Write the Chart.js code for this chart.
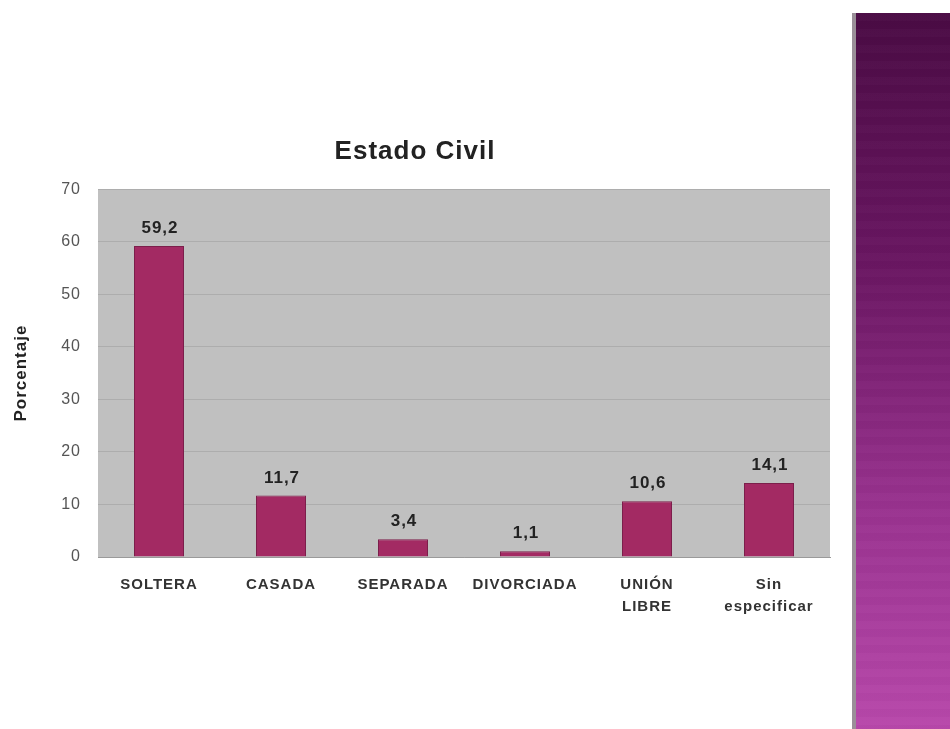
<!DOCTYPE html>
<html>
<head>
<meta charset="utf-8">
<script src="https://cdn.jsdelivr.net/npm/chart.js@4.4.1/dist/chart.umd.min.js"></script>
<style>
  body { margin: 0; background: #fff; width: 950px; height: 729px; overflow: hidden; position: relative; }
  #wrap { position: absolute; left: 0; top: 0; width: 850px; height: 729px; }
  .panel {
    position: absolute; left: 852px; top: 13px; width: 98px; height: 716px;
    border-left: 4px solid #9a8f98;
    box-sizing: border-box;
    background:
      repeating-linear-gradient(180deg, rgba(255,255,255,0.015) 0 8px, rgba(0,0,0,0.015) 8px 16px),
      linear-gradient(180deg, #4a0b44 0%, #6a1662 35%, #9a3390 70%, #b848ab 100%);
  }
</style>
</head>
<body>
<div id="wrap"><canvas id="c" width="850" height="729"></canvas></div>
<div class="panel"></div>
<script>
const categories = ['SOLTERA', 'CASADA', 'SEPARADA', 'DIVORCIADA', ['UNIÓN', 'LIBRE'], ['Sin', 'especificar']];
const porcentajes = [59.2, 11.7, 3.4, 1.1, 10.6, 14.1];
const yTicks = [0, 10, 20, 30, 40, 50, 60, 70];

const FONT = '"Liberation Sans", Arial, sans-serif';

// the source slide is stretched sideways, so all text runs a little wide
const wideText = {
  id: 'wideText',
  beforeDraw(chart) { chart.ctx.letterSpacing = '1px'; }
};

const plotBg = {
  id: 'plotBg',
  beforeDraw(chart) {
    const { ctx, chartArea: a } = chart;
    ctx.save();
    ctx.fillStyle = '#c0c0c0';
    ctx.fillRect(a.left, a.top, a.right - a.left, a.bottom - a.top);
    ctx.restore();
  }
};

const valueLabels = {
  id: 'valueLabels',
  afterDatasetsDraw(chart) {
    const { ctx } = chart;
    const meta = chart.getDatasetMeta(0);
    ctx.save();
    ctx.letterSpacing = '1px';
    ctx.font = 'bold 17px ' + FONT;
    ctx.fillStyle = '#222';
    ctx.textAlign = 'center';
    ctx.textBaseline = 'bottom';
    meta.data.forEach((bar, i) => {
      ctx.fillText(porcentajes[i].toFixed(1).replace('.', ','), bar.x + 1, bar.y - 9);
    });
    ctx.restore();
  }
};

new Chart(document.getElementById('c'), {
  type: 'bar',
  data: {
    labels: categories,
    datasets: [{
      data: porcentajes,
      backgroundColor: '#a32a63',
      borderColor: '#7c1f4b',
      borderWidth: 1,
      categoryPercentage: 1,
      barPercentage: 0.41
    }]
  },
  options: {
    responsive: false,
    animation: false,
    layout: { padding: { top: 136, right: 20, bottom: 112, left: 0 } },
    plugins: {
      legend: { display: false },
      tooltip: { enabled: false },
      title: {
        display: true,
        text: 'Estado Civil',
        color: '#222',
        font: { family: FONT, size: 26, weight: 'bold' },
        padding: { top: 0, bottom: 22 }
      }
    },
    scales: {
      x: {
        grid: { display: false, drawTicks: false },
        border: { color: '#9a9a9a' },
        ticks: {
          color: '#333',
          padding: 17,
          maxRotation: 0,
          autoSkip: false,
          font: { family: FONT, size: 15, weight: 'bold', lineHeight: '22px' }
        },
        afterFit(scale) { scale.height = 60; }
      },
      y: {
        min: 0,
        max: 70,
        afterBuildTicks(scale) { scale.ticks = yTicks.map(v => ({ value: v })); },
        grid: { color: '#adadad', drawTicks: false },
        border: { display: false },
        ticks: {
          color: '#555',
          padding: 17,
          font: { family: FONT, size: 16 }
        },
        title: {
          display: true,
          text: 'Porcentaje',
          color: '#222',
          padding: { top: 11, bottom: 0 },
          font: { family: FONT, size: 17, weight: 'bold' }
        },
        afterFit(scale) { scale.width = 98; }
      }
    }
  },
  plugins: [wideText, plotBg, valueLabels]
});
</script>
</body>
</html>
